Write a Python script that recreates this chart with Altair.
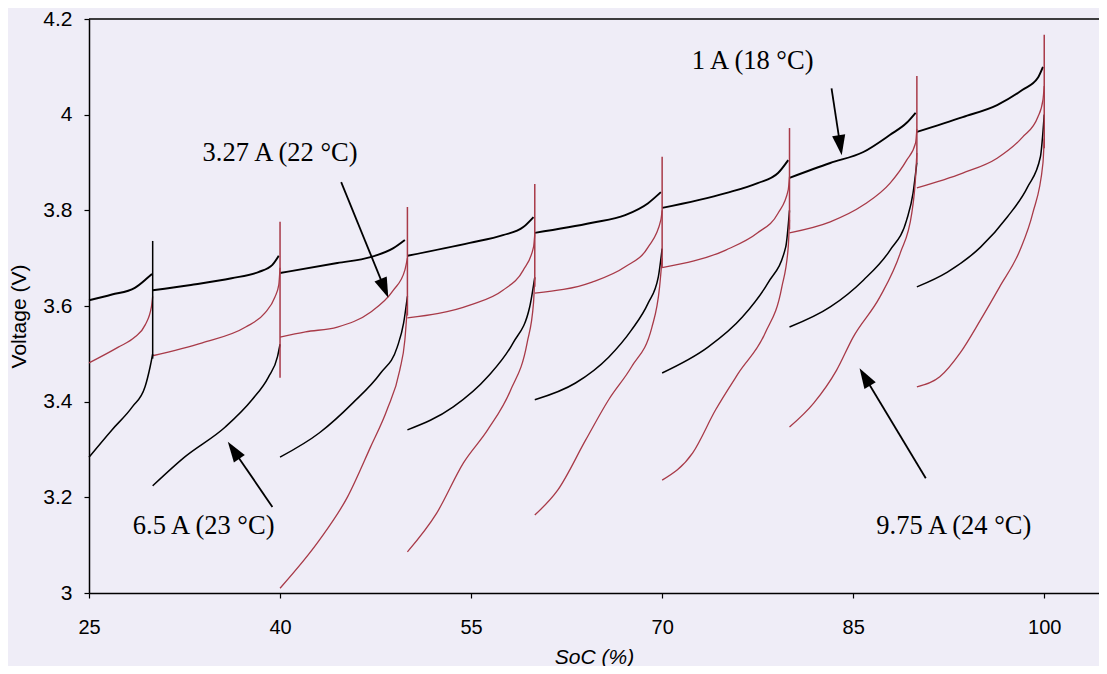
import math
import altair as alt
import pandas as pd

# ---------------- data ----------------
X_MIN, X_MAX = 25, 104.3
Y_MIN, Y_MAX = 3.0, 4.2

series_names = ["1 A (18 °C)", "3.27 A (22 °C)", "6.5 A (23 °C)", "9.75 A (24 °C)"]

# 1 A (18 °C)
soc_1a = [
    [25, 26.8, 28.6, 29.6, 29.95],
    [30, 33, 36.2, 38.3, 39.4, 39.9],
    [40, 44.5, 47.1, 48.9, 49.8],
    [50, 54.9, 57.5, 59.1, 59.9],
    [60, 64.5, 67.1, 68.9, 69.9],
    [70, 75, 77.5, 79.1, 79.9],
    [80, 83.2, 85.8, 87.9, 89.2, 89.9],
    [90, 93.6, 96.3, 98.3, 99.5, 99.9],
]
v_1a = [
    [3.612, 3.624, 3.638, 3.659, 3.667],
    [3.633, 3.644, 3.658, 3.671, 3.686, 3.705],
    [3.669, 3.690, 3.702, 3.721, 3.738],
    [3.705, 3.732, 3.748, 3.765, 3.786],
    [3.753, 3.774, 3.790, 3.815, 3.838],
    [3.805, 3.836, 3.857, 3.878, 3.905],
    [3.868, 3.899, 3.922, 3.958, 3.983, 4.004],
    [3.964, 3.995, 4.020, 4.052, 4.077, 4.100],
]

# 3.27 A (22 °C)
soc_3a = [
    [25, 27.3, 28.6, 29.4, 29.9, 30],
    [30, 33.9, 37.3, 38.8, 39.6, 39.9, 40],
    [40, 42, 44.5, 47.1, 48.9, 49.8, 50],
    [50, 54.9, 57.5, 59.1, 59.9, 60],
    [60, 64.5, 67.1, 68.9, 69.9, 70],
    [70, 75, 77.5, 79.1, 79.9, 80],
    [80, 83.2, 85.8, 87.9, 89.2, 89.9, 90],
    [90, 93.6, 96.3, 98.3, 99.5, 99.9, 100],
]
v_3a = [
    [3.481, 3.514, 3.535, 3.560, 3.598, 3.620],
    [3.496, 3.523, 3.556, 3.585, 3.619, 3.644, 3.680],
    [3.535, 3.546, 3.556, 3.587, 3.633, 3.675, 3.700],
    [3.575, 3.602, 3.633, 3.675, 3.723, 3.750],
    [3.627, 3.650, 3.682, 3.723, 3.780, 3.800],
    [3.680, 3.717, 3.753, 3.794, 3.843, 3.870],
    [3.753, 3.776, 3.811, 3.857, 3.905, 3.941, 3.970],
    [3.847, 3.878, 3.909, 3.953, 3.995, 4.031, 4.060],
]

# 6.5 A (23 °C)
soc_6a = [
    [25, 26.8, 28.4, 29.4, 29.8, 30],
    [30, 32.5, 35.7, 37.8, 39.1, 39.8, 40],
    [40, 43.1, 45.7, 47.9, 49.2, 49.7, 50],
    [50, 53.6, 56.3, 58.3, 59.6, 60],
    [60, 63.2, 65.8, 67.6, 68.9, 69.7, 70],
    [70, 73.6, 76.3, 78.3, 79.7, 80],
    [80, 83.2, 85.8, 87.9, 89.2, 89.7, 90],
    [90, 92.4, 95, 97.1, 98.7, 99.7, 100],
]
v_6a = [
    [3.284, 3.341, 3.389, 3.431, 3.473, 3.500],
    [3.224, 3.284, 3.347, 3.404, 3.452, 3.494, 3.520],
    [3.284, 3.335, 3.397, 3.460, 3.514, 3.564, 3.620],
    [3.341, 3.389, 3.452, 3.523, 3.598, 3.660],
    [3.404, 3.439, 3.493, 3.550, 3.606, 3.661, 3.720],
    [3.460, 3.514, 3.577, 3.648, 3.723, 3.800],
    [3.556, 3.598, 3.654, 3.717, 3.780, 3.836, 3.900],
    [3.640, 3.671, 3.723, 3.786, 3.849, 3.912, 4.000],
]

# 9.75 A (24 °C)
soc_9a = [
    [40, 43.1, 45.3, 47.1, 48.4, 49.4, 49.8, 50],
    [50, 52.3, 54.4, 56.3, 58.1, 59.4, 59.9, 60],
    [60, 61.8, 64, 65.8, 67.6, 69.2, 69.8, 70],
    [70, 72.4, 74.2, 76, 78.1, 79.4, 79.9, 80],
    [80, 81.9, 83.7, 85, 87.1, 88.7, 89.6, 89.9, 90],
    [90, 91.8, 93.4, 95, 96.5, 98.1, 99.1, 99.9, 100],
]
v_9a = [
    [3.010, 3.111, 3.201, 3.305, 3.383, 3.466, 3.529, 3.600],
    [3.086, 3.167, 3.272, 3.341, 3.424, 3.523, 3.606, 3.660],
    [3.163, 3.215, 3.320, 3.404, 3.473, 3.556, 3.640, 3.700],
    [3.236, 3.293, 3.383, 3.460, 3.544, 3.640, 3.723, 3.780],
    [3.347, 3.397, 3.466, 3.535, 3.619, 3.711, 3.794, 3.870, 3.920],
    [3.431, 3.452, 3.502, 3.571, 3.640, 3.717, 3.794, 3.899, 3.950],
]

# vertical rest-voltage steps at the start of each pulse
spike_soc = [30, 40, 50, 60, 70, 80, 90, 100]
spike_low = [3.49, 3.45, 3.58, 3.64, 3.68, 3.76, 3.90, 3.93]
spike_top = [3.736, 3.776, 3.807, 3.855, 3.912, 3.972, 4.081, 4.167]
spike_series = ["6.5 A (23 °C)"] + ["9.75 A (24 °C)"] * 7

# annotations
label_soc = [77.1, 40.0, 34.0, 92.9]
label_v = [4.112, 3.920, 3.140, 3.140]
arrow_tail_soc = [83.3, 44.8, 39.4, 90.7]
arrow_tail_v = [4.055, 3.859, 3.180, 3.240]
arrow_tip_soc = [84.1, 48.5, 35.9, 85.5]
arrow_tip_v = [3.915, 3.617, 3.316, 3.470]

x_ticks = [25, 40, 55, 70, 85, 100]
y_ticks = [3.0, 3.2, 3.4, 3.6, 3.8, 4.0, 4.2]

# ---------------- styling / layout ----------------
W, H = 1010, 574
BLACK = "#000000"
RED = "#a83a48"
series_colors = [BLACK, RED, BLACK, RED]
series_widths = [1.9, 1.3, 1.5, 1.3]
BG = "#efedf7"

color_scale = alt.Scale(domain=series_names, range=series_colors)
xscale = alt.Scale(domain=[X_MIN, X_MAX], nice=False, zero=False)
yscale = alt.Scale(domain=[Y_MIN, Y_MAX], nice=False, zero=False)

xaxis = alt.Axis(values=x_ticks, title="SoC (%)", titleFontStyle="italic",
                 titleFont="Liberation Sans", titleFontSize=21, titleFontWeight="normal",
                 titleColor="black", titleY=70, titleBaseline="alphabetic",
                 labelBaseline="alphabetic", labelPadding=35, labelFontSize=20,
                 labelFlush=False, grid=False)
yaxis = alt.Axis(values=y_ticks, format="~g", title="Voltage (V)",
                 titleFont="Liberation Sans", titleFontSize=21, titleFontWeight="normal",
                 titleColor="black", titleAngle=270, titleX=-70, titleY=H / 2 + 10,
                 titleBaseline="middle", titleAlign="center", labelPadding=12,
                 labelFontSize=21, labelFlush=False, grid=False)


def X(f):
    return alt.X(f, type="quantitative", scale=xscale, axis=xaxis)


def Y(f):
    return alt.Y(f, type="quantitative", scale=yscale, axis=yaxis)


all_soc = [soc_1a, soc_3a, soc_6a, soc_9a]
all_v = [v_1a, v_3a, v_6a, v_9a]

layers = []
for k, name in enumerate(series_names):
    rows = []
    for s, (xs, vs) in enumerate(zip(all_soc[k], all_v[k])):
        for i, (xx, vv) in enumerate(zip(xs, vs)):
            rows.append({"series": name, "seg": s, "i": i, "soc": xx, "v": vv})
    df = pd.DataFrame(rows)
    layers.append(
        alt.Chart(df).mark_line(interpolate="monotone", strokeWidth=series_widths[k])
        .encode(x=X("soc"), y=Y("v"), detail="seg:N", order="i:Q",
                color=alt.Color("series:N", scale=color_scale, legend=None))
    )

spikes = pd.DataFrame({"soc": spike_soc, "low": spike_low, "top": spike_top,
                       "series": spike_series})
layers.append(
    alt.Chart(spikes).mark_rule(strokeWidth=1.5)
    .encode(x=X("soc"), y=Y("low"), y2="top",
            color=alt.Color("series:N", scale=color_scale, legend=None))
)

# top frame line
layers.append(
    alt.Chart(pd.DataFrame({"v": [Y_MAX]})).mark_rule(color="black", strokeWidth=1.5)
    .encode(y=Y("v"))
)

# arrows
px_x = W / (X_MAX - X_MIN)
px_y = H / (Y_MAX - Y_MIN)
HEAD = 24.0
arows = []
for ts, tv, hs, hv in zip(arrow_tail_soc, arrow_tail_v, arrow_tip_soc, arrow_tip_v):
    dx = (hs - ts) * px_x
    dy = -(hv - tv) * px_y  # screen y down
    L = math.hypot(dx, dy)
    ux, uy = dx / L, dy / L
    ang = math.degrees(math.atan2(ux, -uy)) % 360
    back = HEAD / 2
    cs = hs - ux * back / px_x
    cv = hv + uy * back / px_y
    arows.append({"ts": ts, "tv": tv, "hs": hs - ux * 14 / px_x, "hv": hv + uy * 14 / px_y,
                  "cs": cs, "cv": cv, "ang": ang})
adf = pd.DataFrame(arows)
layers.append(
    alt.Chart(adf).mark_rule(color="black", strokeWidth=1.8)
    .encode(x=X("ts"), y=Y("tv"), x2="hs", y2="hv")
)
layers.append(
    alt.Chart(adf).mark_point(shape="M0,-1L0.55,0.7L-0.55,0.7Z", filled=True, color="black",
                              opacity=1, size=HEAD * HEAD, strokeWidth=0)
    .encode(x=X("cs"), y=Y("cv"), angle=alt.Angle("ang:Q", scale=None))
)

labels = pd.DataFrame({"text": series_names, "soc": label_soc, "v": label_v})
layers.append(
    alt.Chart(labels).mark_text(font="Liberation Serif", fontSize=26.5, color="black",
                                align="center", baseline="middle")
    .encode(x=X("soc"), y=Y("v"), text="text:N")
)

chart = alt.layer(*layers).properties(
    width=W, height=H,
    autosize=alt.AutoSizeParams(type="none"),
    padding={"left": 81, "top": 11, "right": 0, "bottom": 73},
    background=BG,
).configure_view(stroke=None).configure_axis(
    domainColor="black", domainWidth=1.5, tickColor="black", tickWidth=1.2, tickSize=5,
    labelColor="black", labelFont="Liberation Sans",
)

chart.save("out.html", embed_options={"renderer": "svg", "actions": False})
